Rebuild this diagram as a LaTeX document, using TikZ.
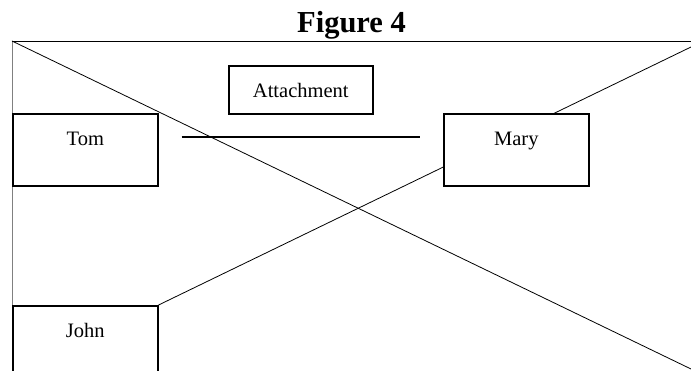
\documentclass[tikz,border=0pt]{standalone}
\usepackage{fontspec}
\setmainfont{Liberation Serif}
\usetikzlibrary{backgrounds}

\tikzset{
	box/.style={draw,line width=1.6pt,fill=white,inner sep=0pt,anchor=north west,minimum width=145pt,text height=32pt,font=\fontsize{20.5}{24}\selectfont},
	thin line/.style={line width=0.8pt}
}

\begin{document}
\begin{tikzpicture}[x=1pt,y=-1pt] % 按像素坐标作图
	\useasboundingbox (0,0) rectangle (691,371);
	\clip (0,0) rectangle (691,371);
	\node[font=\fontsize{30.5}{36}\selectfont\bfseries,anchor=base] (Title) at (351.5,33) {Figure 4};
	\node[box,text depth=16pt,minimum width=144pt] (Attach) at (228,65) {Attachment};
	\node[box,text depth=40pt] (Tom) at (12,113) {Tom};
	\node[box,text depth=40pt] (Mary) at (443,113) {Mary};
	\node[box,text depth=80pt] (John) at (12,305) {John};
	\coordinate (TL) at (12,41); \coordinate (TR) at (691,41);
	\coordinate (BL) at (12,371); \coordinate (BR) at (691,369);
	\coordinate (R) at (691,47);
	\begin{scope}[on background layer] % 背景中的线
		\draw[thin line,gray] (TL) -- (BL);
		\draw[thin line] (TL) -- (TR);
		\draw[thin line] (TL) -- (BR);
		\draw[thin line] (John.north east) -- (R);
	\end{scope}
	\draw[line width=1.5pt] ([shift={(23,24)}]Tom.north east) -- ([shift={(-23,24)}]Mary.north west);
\end{tikzpicture}
\end{document}
